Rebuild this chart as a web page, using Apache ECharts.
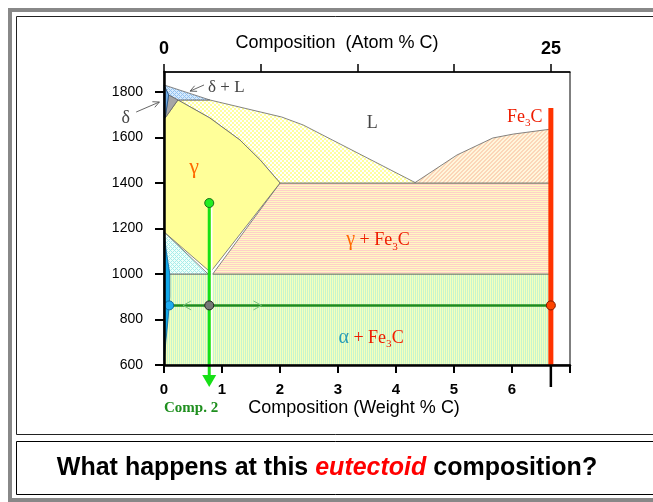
<!DOCTYPE html>
<html>
<head>
<meta charset="utf-8">
<script src="https://cdn.jsdelivr.net/npm/echarts@6/dist/echarts.min.js"></script>
<style>
  html, body { margin: 0; padding: 0; background: #fff; }
  #chart { width: 653px; height: 502px; }
</style>
</head>
<body>
<div id="chart"></div>
<script>
// axes
const xMax = 7;            // weight % C
const yMin = 600, yMax = 1888;
const atomMax = 26.23;     // atom % C at the right edge
const yTicks = [600, 800, 1000, 1200, 1400, 1600, 1800];
const xLabels = [0, 1, 2, 3, 4, 5, 6];
const atomTicks = [0, 6.25, 12.5, 18.75, 25];
const atomLabels = [0, 25];

// phase fields, vertices as [wt% C, temperature]
const deltaL     = [[0, 1831], [0.79, 1765], [0.24, 1765], [0.08, 1787]];
const delta      = [[0, 1831], [0.08, 1787], [0.02, 1686], [0, 1686]];
const deltaGamma = [[0.08, 1787], [0.24, 1765], [0.02, 1686]];
const gamma      = [[0.24, 1765], [0.79, 1686], [1.31, 1589], [1.66, 1501], [2.0, 1400],
                    [0.80, 1008], [0, 1185], [0, 1686], [0.02, 1686]];
const liqGamma   = [[0.24, 1765], [0.79, 1765], [2.03, 1690], [2.40, 1655], [4.33, 1402],
                    [4.33, 1400], [2.0, 1400], [1.66, 1501], [1.31, 1589], [0.79, 1686]];
const liqFe3C    = [[4.33, 1400], [4.33, 1402], [5.05, 1523], [5.67, 1598], [6.02, 1615],
                    [6.67, 1637], [6.67, 1400]];
const gammaFe3C  = [[2.0, 1400], [6.67, 1400], [6.67, 1000], [0.84, 1000]];
const alphaGamma = [[0, 1185], [0.76, 1000], [0, 1000]];
const alpha      = [[0, 1185], [0.04, 1100], [0.10, 1000], [0.10, 900], [0.07, 800],
                    [0.03, 700], [0.01, 640], [0, 620]];
const alphaFe3C  = [[0, 1000], [6.67, 1000], [6.67, 600], [0, 600]];

// cementite line, alloy composition and tie line
const fe3cWt = 6.67, fe3cTop = 1730;
const comp2 = 0.78, comp2Top = 1312, comp2Bottom = 503;
const tieT = 862, alphaWt = 0.09;

const SANS = 'Liberation Sans, Arial, sans-serif';
const SERIF = 'Liberation Serif, Times New Roman, serif';

function tile(w, h, draw) {
  const c = document.createElement('canvas');
  c.width = w; c.height = h;
  draw(c.getContext('2d'));
  return { image: c, repeat: 'repeat' };
}
function px(g, color, cond, w, h) {
  g.fillStyle = color;
  for (let x = 0; x < w; x++) for (let y = 0; y < h; y++) if (cond(x, y)) g.fillRect(x, y, 1, 1);
}
const fills = {
  dotted: tile(4, 4, g => { g.fillStyle = '#ffff9e'; g.fillRect(0, 0, 4, 4); g.fillStyle = '#fff'; g.fillRect(0, 0, 2, 2); g.fillRect(2, 2, 2, 2); }),
  diag: tile(4, 4, g => { g.fillStyle = '#fff6dc'; g.fillRect(0, 0, 4, 4); px(g, '#fcd6b8', (x, y) => (x + y) % 4 < 2, 4, 4); }),
  hstripe: tile(2, 2, g => { g.fillStyle = '#ffd0c8'; g.fillRect(0, 0, 2, 1); g.fillStyle = '#fff8c2'; g.fillRect(0, 1, 2, 1); }),
  vstripe: tile(2, 2, g => { g.fillStyle = '#f6ffbc'; g.fillRect(0, 0, 1, 2); g.fillStyle = '#c6f5cf'; g.fillRect(1, 0, 1, 2); }),
  cyanHatch: tile(4, 4, g => { g.fillStyle = '#eefffa'; g.fillRect(0, 0, 4, 4); px(g, '#a6ecea', (x, y) => (x + y) % 4 === 0 || (x - y + 4) % 4 === 0, 4, 4); }),
  blueHatch: tile(4, 4, g => { g.fillStyle = '#d6eafc'; g.fillRect(0, 0, 4, 4); px(g, '#94c2f0', (x, y) => (x + y) % 4 === 0 || (x - y + 4) % 4 === 0, 4, 4); })
};

function fe3cRich(size) {
  return {
    g: { fontFamily: SERIF, fontSize: size + 2, fill: '#ff6a00', lineHeight: 24 },
    a: { fontFamily: SERIF, fontSize: size + 2, fill: '#2a9db5', lineHeight: 24 },
    r: { fontFamily: SERIF, fontSize: size, fill: '#ee1c00', lineHeight: 24 },
    s: { fontFamily: SERIF, fontSize: size * 0.62, fill: '#ee1c00', lineHeight: 14, verticalAlign: 'bottom' }
  };
}

function renderItem(params, api) {
  const P = p => api.coord(p);
  const poly = (pts, fill, stroke, lw) => ({
    type: 'polygon', shape: { points: pts.map(P) },
    style: { fill: fill, stroke: stroke || '#666', lineWidth: lw == null ? 0.8 : lw }
  });
  const seg = (a, b, stroke, lw) => ({
    type: 'line', shape: { x1: a[0], y1: a[1], x2: b[0], y2: b[1] },
    style: { stroke: stroke, lineWidth: lw }
  });
  const dot = (p, fill, stroke) => ({
    type: 'circle', shape: { cx: p[0], cy: p[1], r: 4.5 },
    style: { fill: fill, stroke: stroke, lineWidth: 1 }
  });
  const text = (p, str, style) => ({
    type: 'text', x: p[0], y: p[1],
    style: Object.assign({ text: str, align: 'center', verticalAlign: 'middle' }, style)
  });
  const arrow = (tail, tip, color) => {
    const a = P(tail), b = P(tip);
    const ang = Math.atan2(b[1] - a[1], b[0] - a[0]);
    const h1 = [b[0] - 7 * Math.cos(ang - 0.45), b[1] - 7 * Math.sin(ang - 0.45)];
    const h2 = [b[0] - 7 * Math.cos(ang + 0.45), b[1] - 7 * Math.sin(ang + 0.45)];
    return [seg(a, b, color, 0.9), {
      type: 'polyline', shape: { points: [h1, b, h2] },
      style: { fill: null, stroke: color, lineWidth: 0.9 }
    }];
  };
  const chevron = (p, dir) => {
    const c = P(p);
    return {
      type: 'polyline',
      shape: { points: [[c[0] + 8 * dir, c[1] - 4.5], [c[0], c[1]], [c[0] + 8 * dir, c[1] + 4.5]] },
      style: { fill: null, stroke: '#7cc47c', lineWidth: 1 }
    };
  };

  const fe3cBase = P([fe3cWt, yMin]);
  const cTop = P([comp2, comp2Top]);
  const cTip = P([comp2, comp2Bottom]);
  const tieL = P([alphaWt, tieT]);
  const tieM = P([comp2, tieT]);
  const tieR = P([fe3cWt, tieT]);

  const children = [
    poly(alphaFe3C, fills.vstripe),
    poly(gammaFe3C, fills.hstripe),
    poly(liqFe3C, fills.diag),
    poly(liqGamma, fills.dotted),
    poly(gamma, '#ffff99'),
    poly(alphaGamma, fills.cyanHatch),
    poly(alpha, '#12a8ea', '#0a5f9a', 0.8),
    poly(deltaL, fills.blueHatch),
    poly(deltaGamma, '#a6a6a6', '#666'),
    poly(delta, '#74b0ea', '#1e4f86', 0.8),
    // cementite composition
    seg(P([fe3cWt, fe3cTop]), fe3cBase, '#ff3300', 5),
    seg(fe3cBase, [fe3cBase[0], fe3cBase[1] + 22], '#000', 2.5),
    // tie line
    seg(tieL, tieR, '#1e8c1e', 2.5),
    chevron([0.33, tieT], 1),
    chevron([1.68, tieT], -1),
    // alloy composition line
    seg([cTop[0] + 2.5, cTop[1]], [cTip[0] + 2.5, cTip[1] - 12], '#fff', 1.5),
    seg(cTop, [cTip[0], cTip[1] - 12], '#16e016', 3),
    { type: 'polygon', shape: { points: [[cTip[0] - 7, cTip[1] - 12], [cTip[0] + 7, cTip[1] - 12], cTip] },
      style: { fill: '#16e016' } },
    dot(cTop, '#22ee22', '#1a6e1a'),
    dot(tieL, '#1eaaf0', '#0d6aa0'),
    dot(tieM, '#777', '#222'),
    dot(tieR, '#ff4400', '#7a1a00'),
    // labels
    text(P([3.59, 1664]), 'L', { fontFamily: SERIF, fontSize: 18, fill: '#444' }),
    text(P([6.22, 1690]), '{r|Fe}{s|3}{r|C}', { rich: fe3cRich(18) }),
    text(P([0.52, 1468]), 'γ', { fontFamily: SERIF, fontSize: 22, fill: '#ff6a00' }),
    text(P([3.69, 1149]), '{g|γ}{r| + Fe}{s|3}{r|C}', { rich: fe3cRich(18) }),
    text(P([3.57, 719]), '{a|α}{r| + Fe}{s|3}{r|C}', { rich: fe3cRich(18) }),
    text(P([0.76, 1818]), 'δ + L', { fontFamily: SERIF, fontSize: 17, fill: '#444', align: 'left' }),
    text(P([-0.66, 1686]), 'δ', { fontFamily: SERIF, fontSize: 18, fill: '#444' })
  ].concat(arrow([0.69, 1831], [0.45, 1804], '#555'))
   .concat(arrow([-0.48, 1712], [-0.08, 1756], '#555'));

  return { type: 'group', children: children };
}

const chart = echarts.init(document.getElementById('chart'));
chart.setOption({
  animation: false,
  grid: { left: 164, right: 83, top: 72, bottom: 137, show: true, borderColor: '#000', borderWidth: 1, backgroundColor: 'transparent' },
  xAxis: [{
    type: 'value', position: 'bottom', min: 0, max: xMax, interval: 1, z: 5,
    name: 'Composition (Weight % C)', nameLocation: 'middle', nameGap: 34, nameMoveOverlap: false,
    nameTextStyle: { fontFamily: SANS, fontSize: 18, color: '#000', padding: [0, 26, 0, 0] },
    axisLine: { lineStyle: { color: '#000', width: 2.5 } },
    axisTick: { length: 8, lineStyle: { color: '#000', width: 2 } },
    axisLabel: { customValues: xLabels, formatter: v => String(v), fontFamily: SANS, fontSize: 15, fontWeight: 'bold', color: '#000', margin: 17 },
    splitLine: { show: false }
  }, {
    type: 'value', position: 'top', min: 0, max: atomMax, z: 5,
    name: 'Composition  (Atom % C)', nameLocation: 'middle', nameGap: 20, nameMoveOverlap: false,
    nameTextStyle: { fontFamily: SANS, fontSize: 18, color: '#000', padding: [0, 60, 0, 0] },
    axisLine: { lineStyle: { color: '#000', width: 1.5 } },
    axisTick: { customValues: atomTicks, length: 8, lineStyle: { color: '#000', width: 1.5 } },
    axisLabel: { customValues: atomLabels, formatter: v => String(v), fontFamily: SANS, fontSize: 18, fontWeight: 'bold', color: '#000', margin: 14 },
    splitLine: { show: false }
  }],
  yAxis: {
    type: 'value', min: yMin, max: yMax, interval: 200, z: 5,
    axisLine: { show: true, lineStyle: { color: '#000', width: 2.5 } },
    axisTick: { show: true, customValues: yTicks, length: 9, lineStyle: { color: '#000', width: 2 } },
    axisLabel: { customValues: yTicks, formatter: v => String(v), fontFamily: SANS, fontSize: 14, color: '#000', margin: 21 },
    splitLine: { show: false }
  },
  series: [{
    type: 'custom', coordinateSystem: 'cartesian2d', xAxisIndex: 0, yAxisIndex: 0,
    silent: true, clip: false, z: 2, data: [[0, yMin]], renderItem: renderItem
  }],
  graphic: [
    { type: 'rect', z: -10, shape: { x: 10, y: 10, width: 700, height: 490 }, style: { fill: null, stroke: '#888', lineWidth: 4 } },
    { type: 'rect', z: -9, shape: { x: 16.5, y: 16.5, width: 700, height: 418 }, style: { fill: null, stroke: '#222', lineWidth: 1 } },
    { type: 'rect', z: -9, shape: { x: 16.5, y: 441.5, width: 700, height: 53 }, style: { fill: null, stroke: '#000', lineWidth: 1 } },
    { type: 'text', x: 164, y: 408, style: { text: 'Comp. 2', fontFamily: SERIF, fontSize: 15, fontWeight: 'bold', fill: '#1f8f1f', align: 'left', verticalAlign: 'middle' } },
    { type: 'text', x: 327, y: 468, style: {
        text: '{b|What happens at this }{e|eutectoid}{b| composition?}', align: 'center', verticalAlign: 'middle',
        rich: {
          b: { fontFamily: SANS, fontSize: 25, fontWeight: 'bold', fill: '#000' },
          e: { fontFamily: SANS, fontSize: 25, fontWeight: 'bold', fontStyle: 'italic', fill: '#ff0000' }
        } } }
  ]
});
</script>
</body>
</html>
